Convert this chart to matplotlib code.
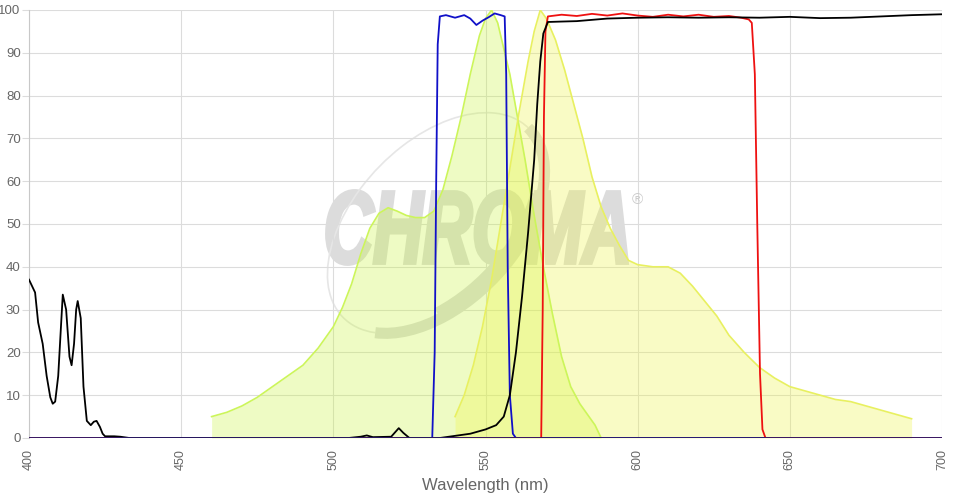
import matplotlib.pyplot as plt
import matplotlib.patches as mpatches
from matplotlib.textpath import TextPath
from matplotlib.font_manager import FontProperties
from matplotlib.transforms import Affine2D, IdentityTransform
import numpy as np

plt.rcParams['font.family'] = ['Liberation Sans', 'DejaVu Sans']

# excitation spectrum (green)
ex_nm = [460, 465, 470, 475, 480, 485, 490, 495, 500, 503, 506, 509, 512, 515, 518, 521, 524,
         527, 530, 533, 536, 539, 542, 545, 548, 550, 552, 554, 556, 558, 560, 563, 566, 569,
         572, 575, 578, 581, 584, 586, 588]
ex_val = [5, 6, 7.5, 9.5, 12, 14.5, 17, 21, 26, 30.5, 36, 43, 49, 52.5, 53.8, 53, 52, 51.5,
          51.5, 53, 58, 66, 75, 85, 94, 98, 100, 97, 91, 85, 77, 65, 52, 40, 29, 19, 12, 8, 5,
          3, 0]

# emission spectrum (yellow)
em_nm = [540, 543, 546, 549, 552, 555, 558, 561, 564, 566, 568, 570, 573, 576, 579, 582, 585,
         588, 591, 594, 597, 600, 605, 610, 614, 618, 622, 626, 630, 635, 640, 645, 650, 655,
         660, 665, 670, 675, 680, 685, 690]
em_val = [5, 10, 17, 26, 37, 50, 63, 76, 88, 95, 100, 98, 93, 86, 78, 70, 61, 54, 49, 45,
          41.5, 40.5, 40, 40, 38.5, 35.5, 32, 28.5, 24, 20, 16.5, 14, 12, 11, 10, 9, 8.5, 7.5,
          6.5, 5.5, 4.5]

# excitation filter (blue)
exf_nm = [400, 532.5, 533.3, 533.8, 534.3, 535, 537, 540, 543, 545, 547, 549, 551, 553, 555,
          556.3, 556.8, 557.3, 558, 559, 560, 700]
exf_val = [0, 0, 20, 60, 92, 98.5, 98.8, 98.2, 98.8, 98, 96.5, 97.5, 98.3, 99.2, 98.8, 98.5,
           85, 40, 10, 1, 0, 0]

# emission filter (red)
emf_nm = [400, 568.3, 568.8, 569.2, 569.7, 570.5, 575, 580, 585, 590, 595, 600, 605, 610, 615,
          620, 625, 630, 634, 636.5, 637.5, 638.5, 639.3, 640.2, 641, 642, 700]
emf_val = [0, 0, 30, 75, 95, 98.5, 98.9, 98.6, 99.1, 98.7, 99.2, 98.7, 98.4, 98.9, 98.5, 98.9,
           98.4, 98.6, 98.2, 97.8, 97, 85, 50, 15, 2, 0, 0]

# dichroic (black)
di_nm = [400, 401, 402, 403, 404.5, 405.8, 407, 407.8, 408.6, 409.6, 410.5, 411.1, 412.2, 413.3,
         414, 414.8, 415.5, 416, 417, 417.9, 419, 420.3, 421.3, 422.2, 423.3, 424.2, 425, 428,
         430, 433, 505, 509, 511, 513, 519, 521.5, 523, 525, 535, 540, 545, 550, 553.5, 556,
         558, 560, 562, 564, 566, 567, 568, 569, 570.5, 575, 580, 590, 600, 610, 620, 630, 640,
         650, 660, 670, 680, 690, 700]
di_val = [37, 35.5, 34, 27, 22, 14.5, 9.5, 8, 8.5, 14.5, 26, 33.5, 30, 19, 17, 22, 30, 32, 28,
          12, 4, 3, 3.8, 4, 2.6, 1, 0.4, 0.4, 0.3, 0, 0, 0.3, 0.6, 0.2, 0.3, 2.3, 1.2, 0, 0,
          0.5, 1, 2, 3, 5, 10, 20, 33, 48, 65, 78, 88, 94.5, 97.2, 97.3, 97.4, 98, 98.2, 98.3,
          98.2, 98.3, 98.2, 98.4, 98.1, 98.2, 98.5, 98.8, 99]

fig = plt.figure(figsize=(9.57, 5.01), dpi=100)
ax = fig.add_axes([29 / 957, 63 / 501, 913 / 957, 428 / 501])

ax.set_xlim(400, 700)
ax.set_ylim(0, 100)
ax.set_xticks(np.arange(400, 701, 50))
ax.set_yticks(np.arange(0, 101, 10))
ax.grid(color='#dcdcdc', linewidth=0.8)
ax.set_axisbelow(True)
for s in ['top', 'right', 'bottom']:
    ax.spines[s].set_visible(False)
ax.spines['left'].set_color('#c8c8c8')
ax.tick_params(axis='x', labelrotation=90, colors='#666666', labelsize=9, length=0, pad=8)
ax.tick_params(axis='y', colors='#666666', labelsize=9.5, length=5, width=0.8,
               color='#dcdcdc', pad=1)

# watermark logo, placed in pixels, under the grid
tp = TextPath((0, 0), 'CHROMA', size=1,
              prop=FontProperties(family='Liberation Sans', weight='bold', style='italic'))
ext = tp.get_extents()
logo_tr = (Affine2D().translate(-ext.x0, -ext.y0)
           .scale(300 / ext.width, 73 / ext.height).translate(327, 237) + IdentityTransform())
ax.add_patch(mpatches.PathPatch(tp, transform=logo_tr, facecolor='#dcdcdc',
                                edgecolor='#dcdcdc', linewidth=2.8, zorder=0.3))
ax.add_patch(mpatches.Arc((436, 278), 265, 160, angle=46, theta1=0, theta2=195,
                          transform=IdentityTransform(), color='#e6e6e6', linewidth=1.2,
                          zorder=0.3))
ax.add_patch(mpatches.Arc((436, 278), 265, 160, angle=46, theta1=195, theta2=360,
                          transform=IdentityTransform(), color='#dcdcdc', linewidth=8,
                          zorder=0.3))
ax.add_patch(mpatches.Arc((436, 278), 256, 148, angle=46, theta1=225, theta2=330,
                          transform=IdentityTransform(), color='#dcdcdc', linewidth=9,
                          zorder=0.3))
fig.text(637 / 957, 301 / 501, '®', fontsize=11, color='#cccccc', ha='center', va='center')

ax.fill_between(ex_nm, ex_val, color='#c8f53c', alpha=0.3, linewidth=0, zorder=2)
ax.plot(ex_nm, ex_val, color='#ccf55a', linewidth=1.2, zorder=3)
ax.fill_between(em_nm, em_val, color='#eef542', alpha=0.3, linewidth=0, zorder=2)
ax.plot(em_nm, em_val, color='#e8f060', linewidth=1.2, zorder=3)

ax.plot(exf_nm, exf_val, color='#1010c8', linewidth=1.3, zorder=4)
ax.plot(emf_nm, emf_val, color='#ee1111', linewidth=1.3, zorder=4)
ax.plot(di_nm, di_val, color='black', linewidth=1.3, zorder=5)
ax.axhline(0, color='#2a1a6a', linewidth=1.3, zorder=6)

ax.set_xlabel('Wavelength (nm)', fontsize=12, color='#666666', labelpad=6)

plt.savefig('out.png')
